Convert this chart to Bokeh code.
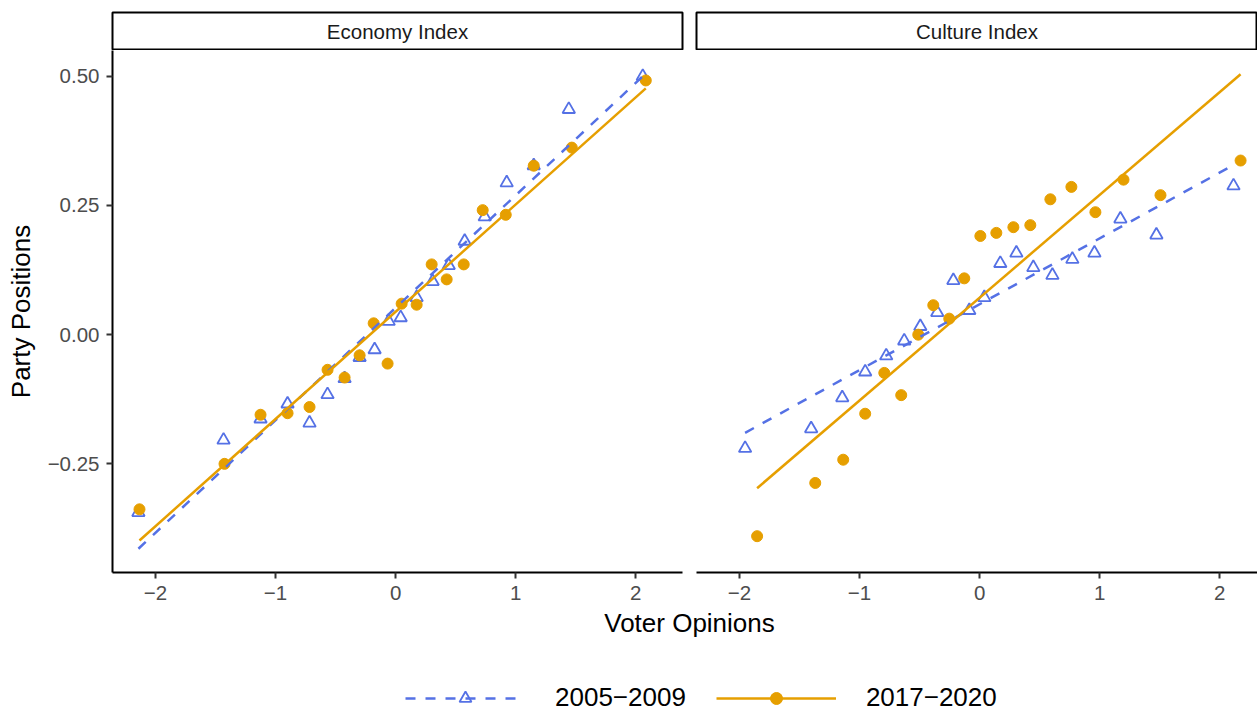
import numpy as np
from bokeh.plotting import figure
from bokeh.layouts import column, row
from bokeh.models import Range1d, FixedTicker, Legend, LegendItem, Label
from bokeh.embed import file_html
from bokeh.resources import INLINE

# ---------------- data ----------------
panels = ["Economy Index", "Culture Index"]
periods = ["2005\u22122009", "2017\u22122020"]

econ_2005_x = [-2.142, -1.433, -1.125, -0.900, -0.717, -0.567, -0.425, -0.300, -0.175, -0.058,
               0.042, 0.175, 0.308, 0.442, 0.575, 0.742, 0.925, 1.150, 1.442, 2.058]
econ_2005_y = [-0.344, -0.204, -0.163, -0.134, -0.171, -0.116, -0.085, -0.044, -0.029, 0.026,
               0.033, 0.072, 0.103, 0.134, 0.181, 0.228, 0.294, 0.327, 0.436, 0.500]

econ_2017_x = [-2.133, -1.425, -1.125, -0.900, -0.717, -0.567, -0.425, -0.300, -0.183, -0.067,
               0.050, 0.175, 0.300, 0.425, 0.567, 0.725, 0.917, 1.150, 1.467, 2.083]
econ_2017_y = [-0.338, -0.250, -0.155, -0.152, -0.140, -0.068, -0.083, -0.040, 0.022, -0.056,
               0.060, 0.058, 0.136, 0.107, 0.136, 0.241, 0.232, 0.327, 0.362, 0.492]

cult_2005_x = [-1.953, -1.403, -1.144, -0.953, -0.778, -0.628, -0.494, -0.353, -0.219, -0.086,
               0.039, 0.172, 0.306, 0.447, 0.606, 0.772, 0.956, 1.172, 1.472, 2.114]
cult_2005_y = [-0.220, -0.182, -0.122, -0.072, -0.041, -0.012, 0.016, 0.043, 0.105, 0.047,
               0.072, 0.138, 0.158, 0.130, 0.115, 0.146, 0.158, 0.224, 0.193, 0.288]

cult_2017_x = [-1.853, -1.369, -1.136, -0.953, -0.794, -0.653, -0.511, -0.386, -0.253, -0.128,
               0.006, 0.139, 0.281, 0.422, 0.589, 0.764, 0.964, 1.198, 1.506, 2.173]
cult_2017_y = [-0.390, -0.287, -0.242, -0.153, -0.074, -0.117, 0.000, 0.057, 0.031, 0.109,
               0.191, 0.197, 0.208, 0.212, 0.262, 0.286, 0.237, 0.300, 0.270, 0.337]

x_ticks = [-2, -1, 0, 1, 2]
x_tick_labels = ["\u22122", "\u22121", "0", "1", "2"]
y_ticks = [-0.25, 0.0, 0.25, 0.5]
y_tick_labels = ["\u22120.25", "0.00", "0.25", "0.50"]

x_title = "Voter Opinions"
y_title = "Party Positions"

# ---------------- style ----------------
FONT = "Liberation Sans"
BLUE = "#5571E5"
ORANGE = "#E69F00"
DASH = "10 10"
LW = 2.5

# ---------------- layout constants ----------------
TOTAL_W = 1257
TOTAL_H = 713
LEFT = 112
FRAME_W = 570
GAP = 7
STRIP_TOP = 12
STRIP_H = 37
FRAME_H = 522
BOTTOM = 36
P2_FRAME_W = TOTAL_W - (LEFT + FRAME_W + GAP) - GAP
P3_H = TOTAL_H - (STRIP_TOP + STRIP_H + 1) - (FRAME_H + BOTTOM)


def lm_line(x, y):
    x = np.asarray(x, float)
    y = np.asarray(y, float)
    slope, icpt = np.polyfit(x, y, 1)
    xs = np.array([x.min(), x.max()])
    return xs, icpt + slope * xs


series = {
    0: [(econ_2005_x, econ_2005_y), (econ_2017_x, econ_2017_y)],
    1: [(cult_2005_x, cult_2005_y), (cult_2017_x, cult_2017_y)],
}
fits = {k: [lm_line(*s) for s in v] for k, v in series.items()}

all_x = np.concatenate([np.asarray(s[0]) for v in series.values() for s in v])
all_y = np.concatenate([np.asarray(s[1]) for v in series.values() for s in v] +
                       [f[1] for v in fits.values() for f in v])
xpad = 0.05 * (all_x.max() - all_x.min())
ypad = 0.05 * (all_y.max() - all_y.min())
X0, X1 = all_x.min() - xpad, all_x.max() + xpad
Y0, Y1 = all_y.min() - ypad, all_y.max() + ypad
yr = Range1d(Y0, Y1)


def style_axis(ax):
    ax.axis_line_color = "black"
    ax.axis_line_width = 2
    ax.major_tick_line_color = "#333333"
    ax.major_tick_line_width = 2
    ax.major_tick_out = 6
    ax.major_tick_in = 0
    ax.minor_tick_out = 0
    ax.minor_tick_in = 0
    ax.major_label_text_font = FONT
    ax.major_label_text_font_size = "20.5px"
    ax.major_label_text_color = "#4D4D4D"


def strip(label, frame_w, bl, br):
    s = figure(frame_width=frame_w, frame_height=STRIP_H, min_border_left=bl, min_border_right=br,
               min_border_top=STRIP_TOP, min_border_bottom=1, x_range=Range1d(0, 1), y_range=Range1d(0, 1),
               toolbar_location=None, output_backend="svg", x_axis_location=None, y_axis_location=None,
               outline_line_color="black", outline_line_width=2)
    s.grid.visible = False
    s.add_layout(Label(x=0.5, y=0.5, text=label, text_align="center", text_baseline="middle",
                       text_font=FONT, text_font_size="20.5px", text_color="#1A1A1A"))
    return s


def panel(idx, frame_w, bl, br, x_end, show_y):
    p = figure(frame_width=frame_w, frame_height=FRAME_H, min_border_left=bl, min_border_right=br,
               min_border_top=0, min_border_bottom=BOTTOM, x_range=Range1d(X0, x_end), y_range=yr,
               toolbar_location=None, output_backend="svg",
               y_axis_location="left" if show_y else None, outline_line_color=None)
    p.grid.visible = False
    (bx, by), (ox, oy) = series[idx]
    (fbx, fby), (fox, foy) = fits[idx]
    p.scatter(bx, by, marker="triangle", size=12.5, fill_color=None, line_color=BLUE, line_width=1.8)
    p.scatter(ox, oy, marker="circle", size=11, fill_color=ORANGE, line_color=ORANGE)
    p.line(fbx, fby, line_color=BLUE, line_width=LW, line_dash=DASH)
    p.line(fox, foy, line_color=ORANGE, line_width=LW)
    p.xaxis.ticker = FixedTicker(ticks=x_ticks)
    p.xaxis.major_label_overrides = dict(zip(x_ticks, x_tick_labels))
    p.xaxis.major_label_standoff = 7
    style_axis(p.xaxis[0])
    if show_y:
        p.yaxis.ticker = FixedTicker(ticks=y_ticks)
        p.yaxis.major_label_overrides = dict(zip(y_ticks, y_tick_labels))
        p.yaxis.major_label_standoff = 7
        style_axis(p.yaxis[0])
        p.yaxis.axis_label = y_title
        p.yaxis.axis_label_text_font = FONT
        p.yaxis.axis_label_text_font_size = "26px"
        p.yaxis.axis_label_text_font_style = "normal"
        p.yaxis.axis_label_text_color = "black"
        p.yaxis.axis_label_standoff = 9
    return p


s1 = strip(panels[0], FRAME_W, LEFT, GAP)
s2 = strip(panels[1], P2_FRAME_W, GAP, 0)
p1 = panel(0, FRAME_W, LEFT, GAP, X1, True)
p2 = panel(1, P2_FRAME_W, GAP, 0, X0 + (X1 - X0) * P2_FRAME_W / FRAME_W, False)

# bottom area: x title + legend
p3 = figure(frame_width=TOTAL_W, frame_height=P3_H, min_border=0,
            x_range=Range1d(0, TOTAL_W), y_range=Range1d(P3_H, 0),
            toolbar_location=None, output_backend="svg", x_axis_location=None, y_axis_location=None,
            outline_line_color=None)
p3.grid.visible = False
center_x = (LEFT + (LEFT + FRAME_W + GAP + GAP + FRAME_W)) / 2
p3.add_layout(Label(x=center_x, y=14, text=x_title, text_align="center", text_baseline="alphabetic",
                    text_font=FONT, text_font_size="26px", text_color="black"))

# legend proxies (a single NaN point, never drawn in the frame)
nan = np.array([np.nan])
l1 = p3.line(x=nan, y=nan, line_color=BLUE, line_width=LW, line_dash=DASH)
m1 = p3.scatter(x=nan, y=nan, marker="triangle", size=12, fill_color=None, line_color=BLUE, line_width=1.8)
l2 = p3.line(x=nan, y=nan, line_color=ORANGE, line_width=LW)
m2 = p3.scatter(x=nan, y=nan, marker="circle", size=11, fill_color=ORANGE, line_color=ORANGE)
legend = Legend(items=[LegendItem(label=periods[0], renderers=[l1, m1]),
                       LegendItem(label=periods[1], renderers=[l2, m2])],
                orientation="horizontal", location=(405, 0),
                glyph_width=120, glyph_height=30, label_height=30, label_width=20,
                label_standoff=30, spacing=30, padding=0, margin=0,
                border_line_color=None, background_fill_alpha=0,
                label_text_font=FONT, label_text_font_size="26px", label_text_color="black")
p3.add_layout(legend)

layout = column(row(s1, s2, spacing=0), row(p1, p2, spacing=0), p3, spacing=0)
open("out.html", "w").write(file_html(layout, INLINE))
